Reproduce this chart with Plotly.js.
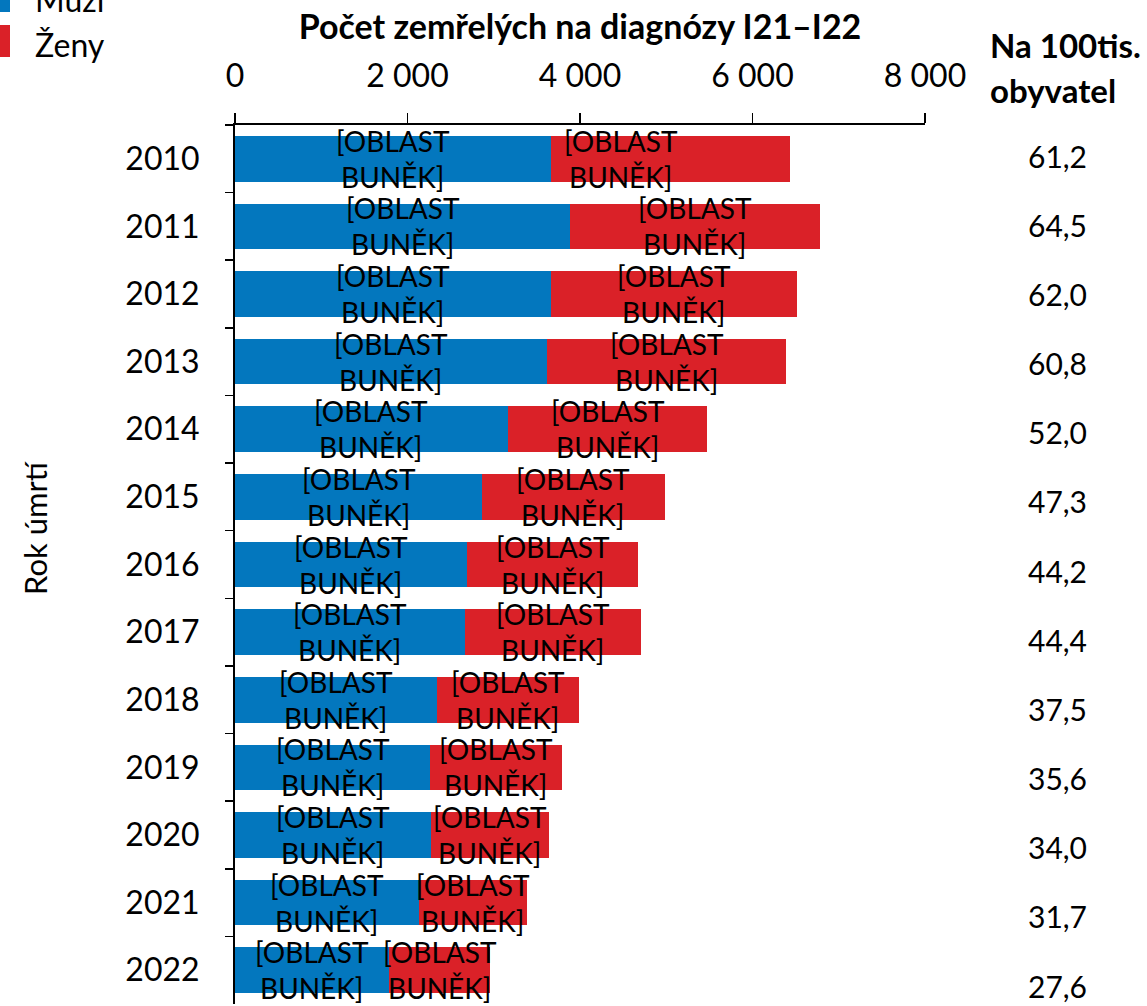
<!DOCTYPE html>
<html>
<head>
<meta charset="utf-8">
<script src="https://cdn.plot.ly/plotly-3.0.1.min.js"></script>
<style>
  html, body { margin: 0; padding: 0; background: #fff; }
  #chart { width: 1147px; height: 1006px; }
</style>
</head>
<body>
<div id="chart"></div>
<script>
// ---- data ----
const years = ['2010','2011','2012','2013','2014','2015','2016','2017','2018','2019','2020','2021','2022'];
const men = [3668, 3885, 3668, 3620, 3163, 2865, 2692, 2668, 2346, 2264, 2269, 2139, 1788];
const women = [2765, 2894, 2846, 2769, 2313, 2116, 1981, 2034, 1640, 1524, 1370, 1250, 1174];
const per100k = [61.2, 64.5, 62.0, 60.8, 52.0, 47.3, 44.2, 44.4, 37.5, 35.6, 34.0, 31.7, 27.6];
const seriesNames = ['Muži', 'Ženy'];
const xTickVals = [0, 2000, 4000, 6000, 8000];
const cellLabel = '[OBLAST<br>BUNĚK]';
const xTitle = 'Počet zemřelých na diagnózy I21–I22';
const yTitle = 'Rok úmrtí';
const rightHeader = ['Na 100tis.', 'obyvatel'];

// ---- style ----
const W = 1147, H = 1006;
const COLORS = ['#0377BE', '#DA2128'];
const FONT = 'Lato, "Open Sans", sans-serif';
const px = x => x / W;
const py = y => 1 - y / H;
const LABEL_NUDGE = { series: 1, index: 0, px: -50 };

const traces = [
  { type: 'bar', orientation: 'h', name: seriesNames[0], y: years, x: men,
    marker: { color: COLORS[0] }, xaxis: 'x', yaxis: 'y', hoverinfo: 'skip' },
  { type: 'bar', orientation: 'h', name: seriesNames[1], y: years, x: women,
    marker: { color: COLORS[1] }, xaxis: 'x', yaxis: 'y', hoverinfo: 'skip' },
  { type: 'scatter', mode: 'text', x: years.map(() => 0.5), y: years,
    text: per100k.map(v => v.toFixed(1).replace('.', ',')),
    textfont: { family: FONT, size: 30, color: '#000' },
    textposition: 'middle center', xaxis: 'x2', yaxis: 'y2', showlegend: false, hoverinfo: 'skip' }
];

const annotations = [];
years.forEach((yr, i) => {
  [men[i] / 2, men[i] + women[i] / 2].forEach((xc, s) => {
    annotations.push({
      x: xc, y: i, xref: 'x', yref: 'y', text: cellLabel, showarrow: false,
      xanchor: 'center', yanchor: 'middle',
      xshift: (s === LABEL_NUDGE.series && i === LABEL_NUDGE.index) ? LABEL_NUDGE.px : 0,
      font: { family: FONT, size: 28, color: '#000' }, align: 'center'
    });
  });
});
// y title
annotations.push({ x: px(35), y: py(528), xref: 'paper', yref: 'paper', text: yTitle,
  xanchor: 'center', yanchor: 'middle',
  textangle: -90, showarrow: false, font: { family: FONT, size: 31, color: '#000' } });
// right header
rightHeader.forEach((t, k) => annotations.push({
  x: px(988), y: py(45 + k * 45), xref: 'paper', yref: 'paper', xanchor: 'left', yanchor: 'middle',
  text: '<b>' + t + '</b>', showarrow: false, font: { family: FONT, size: 33, color: '#000' } }));
// legend
const shapes = [];
seriesNames.forEach((n, k) => {
  const top = -20 + k * 45;
  shapes.push({ type: 'rect', xref: 'paper', yref: 'paper', x0: px(-18), x1: px(10),
    y0: py(top), y1: py(top + 32), fillcolor: COLORS[k], line: { width: 0 } });
  annotations.push({ x: px(33), y: py(top + 19), xref: 'paper', yref: 'paper',
    xanchor: 'left', yanchor: 'middle',
    text: n, showarrow: false, font: { family: FONT, size: 32, color: '#000' } });
});

const layout = {
  width: W, height: H,
  margin: { l: 0, r: 0, t: 0, b: 0, pad: 0 },
  paper_bgcolor: '#fff', plot_bgcolor: '#fff',
  separators: ', ',
  barmode: 'stack', bargap: 0.325,
  showlegend: false,
  font: { family: FONT, color: '#000' },
  xaxis: {
    domain: [px(235), px(925)], anchor: 'y', side: 'top',
    range: [0, 8000], tickvals: xTickVals, tickformat: ',d',
    ticks: 'outside', ticklen: 10, tickwidth: 1.5, tickcolor: '#000',
    showline: true, linecolor: '#000', linewidth: 2,
    showgrid: false, zeroline: false,
    tickfont: { family: FONT, size: 32, color: '#000' },
    ticklabelstandoff: 13,
    title: { text: xTitle, font: { family: FONT, size: 34, color: '#000', weight: 'bold' }, standoff: 5 }
  },
  yaxis: {
    domain: [py(1004), py(125)], anchor: 'x', type: 'category',
    range: [12.5, -0.5], tickson: 'boundaries',
    ticks: 'outside', ticklen: 8, tickwidth: 1.5, tickcolor: '#000',
    showline: true, linecolor: '#000', linewidth: 2,
    showgrid: false, zeroline: false,
    tickfont: { family: FONT, size: 32, color: '#000' },
    ticklabelstandoff: 27
  },
  xaxis2: { domain: [px(968), 1], range: [0, 1], anchor: 'y2', visible: false },
  yaxis2: { domain: [py(1004), py(125)], anchor: 'x2', type: 'category',
    range: [12.2, -0.506], visible: false },
  annotations: annotations,
  shapes: shapes
};

Plotly.newPlot('chart', traces, layout, { displayModeBar: false, staticPlot: true });
</script>
</body>
</html>
